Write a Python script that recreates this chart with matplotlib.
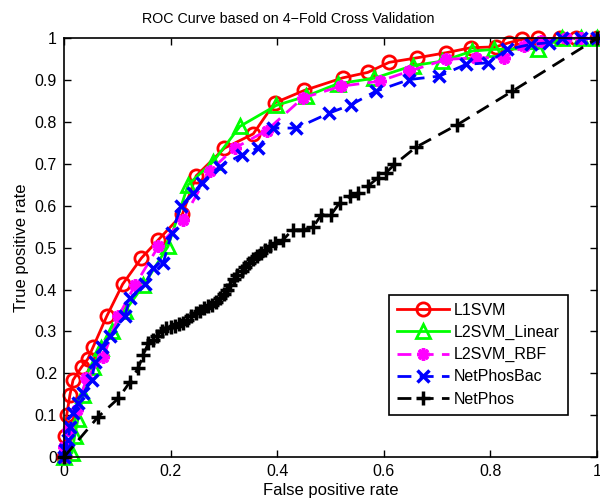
import matplotlib
matplotlib.use("Agg")
import matplotlib.pyplot as plt

plt.rcParams['font.family'] = ['Liberation Sans', 'DejaVu Sans']

title = "ROC Curve based on 4\u2212Fold Cross Validation"
xlabel = "False positive rate"
ylabel = "True positive rate"

l1_fpr = [0, 0.002, 0.005, 0.011, 0.017, 0.033, 0.045, 0.055, 0.08, 0.11, 0.145, 0.177, 0.222,
          0.248, 0.301, 0.355, 0.395, 0.451, 0.523, 0.57, 0.61, 0.663, 0.717, 0.763, 0.81, 0.835,
          0.86, 0.89, 0.93, 0.96, 1.0]
l1_tpr = [0, 0.05, 0.10, 0.148, 0.184, 0.215, 0.235, 0.264, 0.336, 0.413, 0.475, 0.519, 0.58,
          0.672, 0.738, 0.772, 0.846, 0.876, 0.906, 0.919, 0.943, 0.954, 0.966, 0.978, 0.98, 0.99,
          0.998, 1.0, 1.0, 1.0, 1.0]

l2lin_fpr = [0, 0.015, 0.02, 0.026, 0.036, 0.055, 0.07, 0.09, 0.115, 0.149, 0.195, 0.233, 0.28,
             0.33, 0.398, 0.454, 0.514, 0.582, 0.654, 0.71, 0.766, 0.807, 0.89, 0.935, 0.97, 1.0]
l2lin_tpr = [0, 0.01, 0.05, 0.09, 0.148, 0.216, 0.26, 0.30, 0.35, 0.41, 0.503, 0.651, 0.706,
             0.79, 0.84, 0.862, 0.892, 0.905, 0.935, 0.946, 0.97, 0.974, 0.976, 1.0, 1.0, 1.0]

rbf_fpr = [0, 0.0, 0.008, 0.024, 0.042, 0.074, 0.102, 0.133, 0.177, 0.223, 0.273, 0.32, 0.38,
           0.448, 0.52, 0.592, 0.648, 0.717, 0.773, 0.826, 0.863, 0.895, 0.941, 0.97, 1.0]
rbf_tpr = [0, 0.025, 0.065, 0.112, 0.188, 0.24, 0.336, 0.41, 0.503, 0.567, 0.683, 0.738, 0.78,
           0.858, 0.886, 0.898, 0.922, 0.95, 0.954, 0.954, 0.982, 0.994, 1.0, 1.0, 1.0]

bac_fpr = [0, 0.002, 0.008, 0.011, 0.017, 0.027, 0.036, 0.052, 0.058, 0.071, 0.086, 0.114, 0.124,
           0.152, 0.167, 0.186, 0.202, 0.22, 0.242, 0.258, 0.292, 0.333, 0.364, 0.392, 0.436,
           0.498, 0.539, 0.585, 0.648, 0.704, 0.754, 0.795, 0.832, 0.876, 0.91, 0.935, 0.97, 1.0]
bac_tpr = [0, 0.017, 0.04, 0.072, 0.104, 0.128, 0.152, 0.184, 0.228, 0.264, 0.288, 0.336, 0.38,
           0.413, 0.451, 0.463, 0.535, 0.6, 0.631, 0.655, 0.694, 0.722, 0.738, 0.786, 0.786,
           0.822, 0.842, 0.874, 0.902, 0.91, 0.938, 0.942, 0.974, 0.986, 0.99, 1.0, 1.0, 1.0]

np_fpr = [0, 0.064, 0.102, 0.124, 0.139, 0.149, 0.158, 0.167, 0.175, 0.183, 0.192, 0.200, 0.208,
          0.215, 0.223, 0.231, 0.239, 0.247, 0.255, 0.263, 0.270, 0.278, 0.286, 0.293, 0.300,
          0.306, 0.311, 0.318, 0.325, 0.333, 0.340, 0.348, 0.355, 0.363, 0.370, 0.378, 0.386,
          0.395, 0.411, 0.429, 0.448, 0.467, 0.483, 0.501, 0.517, 0.536, 0.551, 0.57, 0.589,
          0.604, 0.62, 0.66, 0.738, 0.841, 1.0]
np_tpr = [0, 0.096, 0.14, 0.18, 0.212, 0.244, 0.272, 0.28, 0.29, 0.30, 0.308, 0.31, 0.314,
          0.318, 0.32, 0.328, 0.336, 0.344, 0.348, 0.355, 0.36, 0.364, 0.37, 0.38, 0.39,
          0.40, 0.41, 0.425, 0.435, 0.445, 0.455, 0.463, 0.473, 0.48, 0.488, 0.495, 0.503,
          0.512, 0.519, 0.543, 0.543, 0.549, 0.579, 0.579, 0.607, 0.623, 0.631, 0.647, 0.667,
          0.679, 0.699, 0.74, 0.794, 0.874, 1.0]

fig = plt.figure(figsize=(6.0, 4.98), dpi=100)
ax = fig.add_axes([0.1067, 0.0823, 0.8883, 0.8404])

lw = 2
ax.plot(l1_fpr, l1_tpr, color='#ff0000', lw=lw, marker='o', markersize=9.5, markerfacecolor='none',
        markeredgewidth=2, label='L1SVM', clip_on=False)
ax.plot(l2lin_fpr, l2lin_tpr, color='#00ff00', lw=lw, marker='^', markersize=10, markerfacecolor='none',
        markeredgewidth=2, label='L2SVM_Linear', clip_on=False)
ax.plot(rbf_fpr, rbf_tpr, color='#ff00ff', lw=lw, ls=(0, (5, 3)), marker=(8, 2, 0), markersize=9,
        markeredgewidth=2.5, label='L2SVM_RBF', clip_on=False)
ax.plot(bac_fpr, bac_tpr, color='#0000ff', lw=lw, ls=(0, (5, 3)), marker='x', markersize=8,
        markeredgewidth=2.5, label='NetPhosBac', clip_on=False)
ax.plot(np_fpr, np_tpr, color='#000000', lw=lw, ls=(0, (5, 3)), marker='+', markersize=10,
        markeredgewidth=2.5, label='NetPhos', clip_on=False)

ax.set_xlim(0, 1)
ax.set_ylim(0, 1)
ax.set_xticks([0, 0.2, 0.4, 0.6, 0.8, 1])
ax.set_xticklabels(['0', '0.2', '0.4', '0.6', '0.8', '1'])
ax.set_yticks([i / 10 for i in range(11)])
ax.set_yticklabels(['0', '0.1', '0.2', '0.3', '0.4', '0.5', '0.6', '0.7', '0.8', '0.9', '1'])
ax.tick_params(direction='in', top=True, right=True, length=5, width=1, labelsize=11.5, pad=5)
for s in ax.spines.values():
    s.set_linewidth(1.2)

ax.text(0.42, 1.0 + 12 / 418, title, transform=ax.transAxes, ha='center', va='bottom', fontsize=10.3)
ax.set_xlabel(xlabel, fontsize=12, labelpad=3)
ax.set_ylabel(ylabel, fontsize=12, labelpad=4)

leg = ax.legend(loc='upper left', bbox_to_anchor=(0.609, 0.388), borderaxespad=0, fontsize=11.5,
                handlelength=3.3, fancybox=False, framealpha=1, edgecolor='black',
                labelspacing=0.45, handletextpad=0.3, borderpad=0.5)
leg.get_frame().set_linewidth(1.2)

fig.savefig('out.png', dpi=100)
